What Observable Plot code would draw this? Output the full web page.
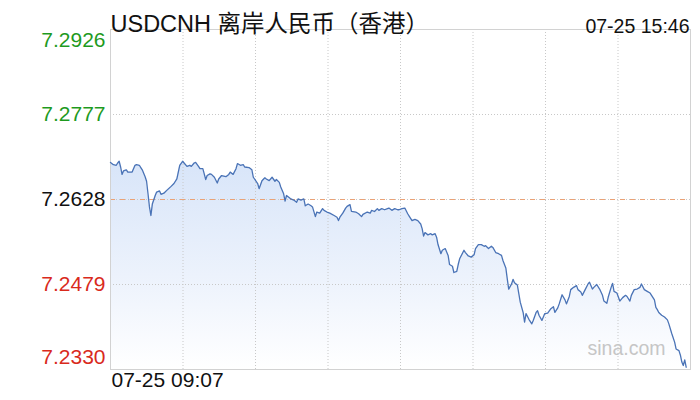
<!DOCTYPE html>
<html>
<head>
<meta charset="utf-8">
<script src="https://cdn.jsdelivr.net/npm/d3@7"></script>
<script src="https://cdn.jsdelivr.net/npm/@observablehq/plot@0.6"></script>
<style>
  html, body { margin: 0; padding: 0; background: #fff; }
  #chart { width: 700px; height: 400px; }
</style>
</head>
<body>
<div id="chart"></div>
<script>
// ---- data ----
const titleText = "USDCNH 离岸人民币（香港）";
const lastTime = "07-25 15:46";
const firstTime = "07-25 09:07";
const watermark = "sina.com";

const prevClose = 7.2628;
const yTicks = [7.2926, 7.2777, 7.2628, 7.2479, 7.2330];

// minutes after 09:07
const minutes = [
  0, 2, 4, 5, 6, 7, 8, 9, 11, 12, 15, 17, 18, 20, 21, 22, 24, 25, 26, 27,
  28, 29, 31, 32, 34, 35, 37, 39, 42, 44, 46, 47, 48, 50, 51, 53, 55, 56, 58, 59,
  61, 62, 64, 66, 67, 69, 70, 72, 74, 75, 77, 80, 82, 83, 85, 87, 88, 90, 92, 93,
  96, 98, 99, 102, 103, 105, 107, 108, 110, 112, 114, 115, 117, 118, 120, 121, 122, 124, 125, 127,
  129, 130, 132, 134, 135, 137, 139, 140, 142, 143, 145, 147, 148, 150, 152, 155, 157, 158, 159, 161,
  163, 164, 166, 167, 170, 172, 174, 175, 178, 180, 181, 183, 185, 186, 188, 190, 192, 193, 195, 197,
  199, 200, 202, 204, 206, 207, 209, 211, 213, 215, 216, 217, 218, 220, 222, 223, 225, 226, 227, 229,
  230, 232, 234, 235, 237, 238, 240, 241, 242, 245, 246, 248, 250, 252, 253, 255, 257, 259, 260, 262,
  264, 265, 267, 269, 271, 272, 274, 275, 276, 278, 279, 280, 282, 283, 284, 286, 287, 288, 290, 292,
  293, 295, 296, 297, 299, 301, 303, 305, 307, 308, 310, 311, 313, 315, 316, 318, 319, 321, 323, 324,
  326, 327, 329, 331, 332, 334, 335, 337, 339, 341, 342, 344, 345, 347, 348, 349, 351, 352, 353, 355,
  357, 358, 360, 361, 363, 365, 367, 368, 370, 372, 374, 375, 377, 378, 379, 380, 382, 384, 386, 387,
  389, 391, 392, 394, 395, 396, 397, 398, 399
];

const prices = [
  7.2693, 7.2689, 7.2688, 7.2692, 7.2695, 7.2685, 7.2672, 7.2678, 7.2680, 7.2676, 7.2676, 7.2688, 7.2689, 7.2688, 7.2684, 7.2680, 7.2668, 7.2660, 7.2638, 7.2615,
  7.2600, 7.2620, 7.2635, 7.2641, 7.2643, 7.2637, 7.2639, 7.2644, 7.2651, 7.2656, 7.2664, 7.2676, 7.2688, 7.2695, 7.2692, 7.2686, 7.2688, 7.2686, 7.2692, 7.2693,
  7.2686, 7.2682, 7.2682, 7.2663, 7.2670, 7.2673, 7.2672, 7.2667, 7.2657, 7.2664, 7.2670, 7.2668, 7.2672, 7.2676, 7.2672, 7.2682, 7.2691, 7.2688, 7.2689, 7.2685,
  7.2684, 7.2680, 7.2667, 7.2656, 7.2647, 7.2661, 7.2666, 7.2664, 7.2661, 7.2667, 7.2660, 7.2663, 7.2658, 7.2650, 7.2638, 7.2625, 7.2635, 7.2631, 7.2629, 7.2627,
  7.2623, 7.2629, 7.2627, 7.2629, 7.2617, 7.2620, 7.2617, 7.2615, 7.2598, 7.2606, 7.2604, 7.2612, 7.2609, 7.2606, 7.2604, 7.2600, 7.2597, 7.2591, 7.2597, 7.2604,
  7.2613, 7.2616, 7.2619, 7.2607, 7.2606, 7.2603, 7.2598, 7.2602, 7.2606, 7.2604, 7.2609, 7.2607, 7.2612, 7.2609, 7.2612, 7.2610, 7.2612, 7.2613, 7.2609, 7.2612,
  7.2610, 7.2610, 7.2612, 7.2613, 7.2603, 7.2599, 7.2591, 7.2593, 7.2591, 7.2585, 7.2577, 7.2564, 7.2570, 7.2566, 7.2568, 7.2566, 7.2568, 7.2562, 7.2549, 7.2533,
  7.2539, 7.2542, 7.2530, 7.2514, 7.2511, 7.2500, 7.2502, 7.2514, 7.2524, 7.2539, 7.2535, 7.2529, 7.2527, 7.2531, 7.2542, 7.2549, 7.2549, 7.2546, 7.2547, 7.2542,
  7.2546, 7.2544, 7.2535, 7.2533, 7.2530, 7.2521, 7.2508, 7.2489, 7.2471, 7.2480, 7.2488, 7.2482, 7.2478, 7.2463, 7.2448, 7.2430, 7.2413, 7.2428, 7.2418, 7.2410,
  7.2416, 7.2430, 7.2433, 7.2425, 7.2416, 7.2428, 7.2429, 7.2436, 7.2440, 7.2430, 7.2438, 7.2445, 7.2461, 7.2452, 7.2445, 7.2458, 7.2470, 7.2474, 7.2477, 7.2470,
  7.2466, 7.2460, 7.2470, 7.2480, 7.2483, 7.2471, 7.2474, 7.2479, 7.2471, 7.2460, 7.2450, 7.2446, 7.2457, 7.2474, 7.2481, 7.2467, 7.2464, 7.2457, 7.2450, 7.2456,
  7.2460, 7.2458, 7.2450, 7.2460, 7.2470, 7.2471, 7.2474, 7.2480, 7.2470, 7.2467, 7.2464, 7.2460, 7.2452, 7.2439, 7.2435, 7.2430, 7.2425, 7.2422, 7.2417, 7.2410,
  7.2393, 7.2378, 7.2366, 7.2363, 7.2355, 7.2343, 7.2337, 7.2347, 7.2334
];

const sessionMinutes = 402;   // width of the time axis in minutes
const gridDivisions = 8;

// ---- build ----
const data = minutes.map((m, i) => ({m, p: prices[i]}));
const yMin = yTicks[yTicks.length - 1];
const yMax = yTicks[0];
const vGrid = d3.range(1, gridDivisions).map(k => k * sessionMinutes / gridDivisions);
const hGrid = yTicks.filter(t => t !== yMax && t !== yMin);
const labelColor = t => t > prevClose ? "#1e9a1e" : t < prevClose ? "#d92a1c" : "#111";
const fmt = d3.format(".4f");

const chart = Plot.plot({
  width: 700,
  height: 400,
  marginLeft: 110,
  marginRight: 10,
  marginTop: 29,
  marginBottom: 31,
  style: {fontFamily: "'Liberation Sans', Arial, 'Noto Sans CJK SC', sans-serif", background: "#fff", overflow: "visible"},
  x: {domain: [0, sessionMinutes], axis: null},
  y: {domain: [yMin, yMax], axis: null},
  marks: [
    Plot.areaY(data, {x: "m", y1: yMin, y2: "p", fill: "url(#usdcnhFill)", curve: "linear"}),
    Plot.ruleX(vGrid, {x: d => d, stroke: "#c8c8c8", strokeWidth: 1, strokeDasharray: "1,2"}),
    Plot.ruleY(hGrid, {y: d => d, stroke: "#c8c8c8", strokeWidth: 1, strokeDasharray: "1,2"}),
    Plot.ruleY([prevClose], {y: d => d, stroke: "#eaa276", strokeWidth: 1, strokeDasharray: "5,5"}),
    Plot.frame({stroke: "#d2d2d2", strokeWidth: 1}),
    Plot.lineY(data, {x: "m", y: "p", stroke: "#4a73b6", strokeWidth: 1.3, curve: "linear"}),
    // y labels
    Plot.text([yMax], {y: d => d, text: d => fmt(d), frameAnchor: "left", textAnchor: "end", dx: -5, dy: 11, fontSize: 21, fill: labelColor}),
    Plot.text(yTicks.filter(t => t !== yMax && t !== yMin), {y: d => d, text: d => fmt(d), frameAnchor: "left", textAnchor: "end", dx: -5, fontSize: 21, fill: labelColor}),
    Plot.text([yMin], {y: d => d, text: d => fmt(d), frameAnchor: "left", textAnchor: "end", dx: -5, dy: -12, fontSize: 21, fill: labelColor}),
    // title, times, watermark
    Plot.text([titleText], {text: d => d, frameAnchor: "top-left", textAnchor: "start", dx: 0, dy: -14, fontSize: 23.5, fill: "#111"}),
    Plot.text([lastTime], {text: d => d, frameAnchor: "top-right", textAnchor: "end", dx: -1, dy: -10, fontSize: 19.5, fill: "#111"}),
    Plot.text([firstTime], {text: d => d, frameAnchor: "bottom-left", textAnchor: "start", dx: 1, dy: 17, fontSize: 21, fill: "#111"}),
    Plot.text([watermark], {text: d => d, frameAnchor: "bottom-right", textAnchor: "end", dx: -25, dy: -15, fontSize: 19.5, fill: "#c6c6c6"})
  ]
});

// gradient for the area fill
const ns = "http://www.w3.org/2000/svg";
const defs = document.createElementNS(ns, "defs");
const grad = document.createElementNS(ns, "linearGradient");
grad.setAttribute("id", "usdcnhFill");
grad.setAttribute("x1", "0"); grad.setAttribute("y1", "0");
grad.setAttribute("x2", "0"); grad.setAttribute("y2", "1");
[["0", "#d8e5f9"], ["0.55", "#ecf2fc"], ["1", "#ffffff"]].forEach(([o, c]) => {
  const s = document.createElementNS(ns, "stop");
  s.setAttribute("offset", o);
  s.setAttribute("stop-color", c);
  grad.appendChild(s);
});
defs.appendChild(grad);
chart.insertBefore(defs, chart.firstChild);

document.getElementById("chart").appendChild(chart);
</script>
</body>
</html>
